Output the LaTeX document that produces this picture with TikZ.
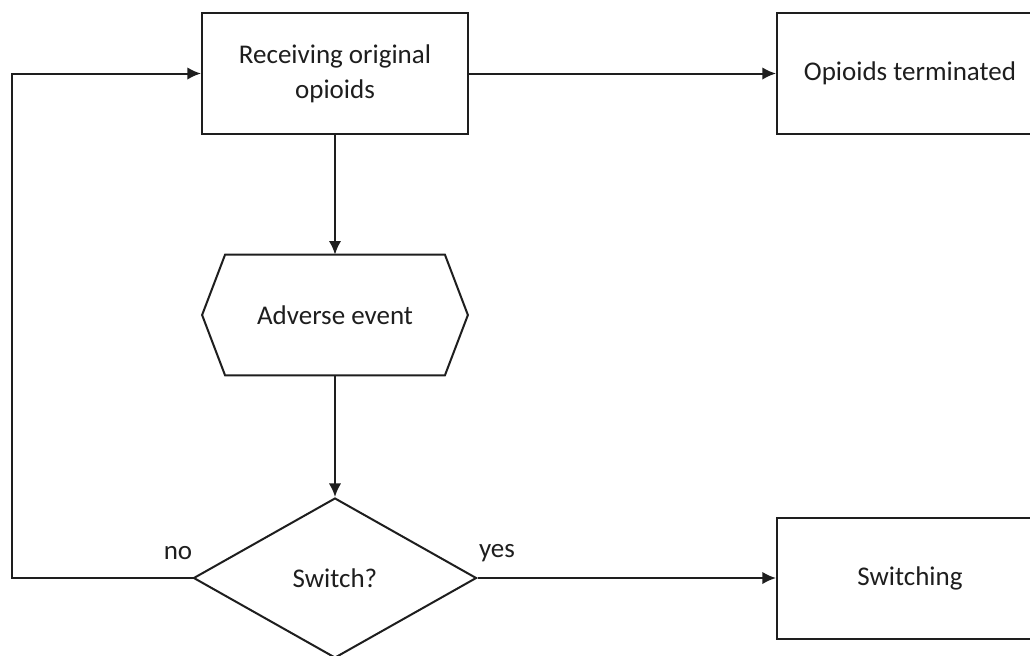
\documentclass[tikz,border=0pt]{standalone}
\usepackage{fontspec}
\setmainfont{Carlito}
\usetikzlibrary{shapes.geometric,arrows.meta}
\definecolor{ink}{HTML}{1E1E1E}
\begin{document}
\begin{tikzpicture}[x=0.5pt,y=-0.5pt,
  every node/.style={font=\fontsize{13.5}{17.5}\selectfont, text=ink},
  box/.style={draw=ink, line width=1pt, minimum width=133pt, minimum height=60.5pt, align=center, inner sep=0pt},
  hexa/.style={minimum width=132.5pt, minimum height=60pt, inner sep=0pt},
  decision/.style={diamond, draw=ink, line width=1pt, minimum width=141.5pt, minimum height=80pt, inner sep=0pt},
  arr/.style={draw=ink, line width=1pt, -{Latex[length=6.8pt,width=6.2pt]}},
  lbl/.style={inner sep=0pt}
]
\useasboundingbox (0,0) rectangle (1030,655);
\clip (0,0) rectangle (1030,655);
\fill[white] (0,0) rectangle (1030,655);

\node[box] (rec) at (335,73.5) {Receiving original\\opioids};
\node[box] (term) at (910,73.5) {Opioids terminated};
\node[hexa] (ae) at (335,315) {Adverse event};
\draw[ink, line width=1pt] (ae.west) -- ([xshift=11.5pt]ae.north west) -- ([xshift=-11.5pt]ae.north east)
  -- (ae.east) -- ([xshift=-11.5pt]ae.south east) -- ([xshift=11.5pt]ae.south west) -- cycle;
\node[decision] (sw) at (335,578) {Switch?};
\node[box] (swi) at (910,578) {Switching};

\coordinate (loop) at (12,578);

\draw[arr] (rec) -- (term);
\draw[arr] (rec) -- (ae);
\draw[arr] (ae) -- (sw);
\draw[arr] (sw) -- (swi);
\draw[arr] (sw.west) -- (loop) |- (rec.west);

\node[lbl] (no) at (178,553) {no};
\node[lbl] (yes) at (497,553) {yes};
\end{tikzpicture}
\end{document}
